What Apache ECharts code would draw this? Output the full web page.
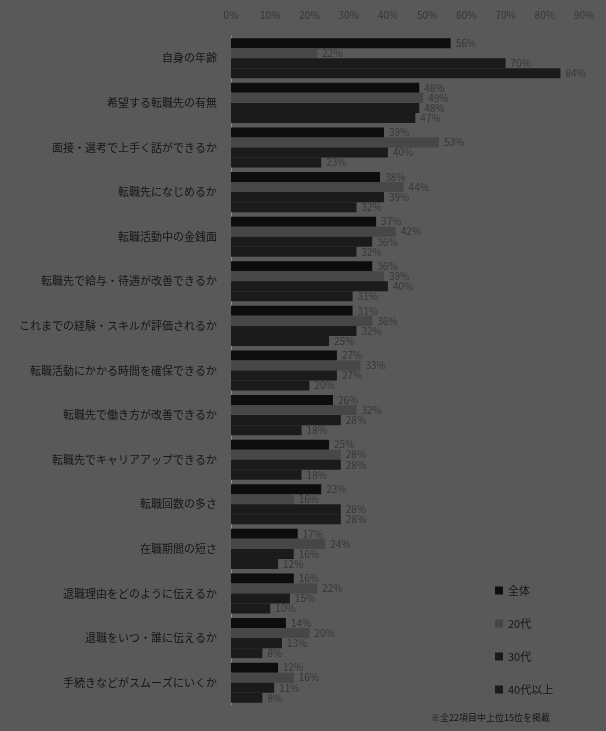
<!DOCTYPE html>
<html>
<head>
<meta charset="utf-8">
<script src="https://cdn.jsdelivr.net/npm/echarts@6/dist/echarts.min.js"></script>
<style>
html, body { margin: 0; padding: 0; background: #595959; }
#chart { width: 606px; height: 731px; }
</style>
</head>
<body>
<div id="chart"></div>
<script>
var categories = [
    '自身の年齢',
    '希望する転職先の有無',
    '面接・選考で上手く話ができるか',
    '転職先になじめるか',
    '転職活動中の金銭面',
    '転職先で給与・待遇が改善できるか',
    'これまでの経験・スキルが評価されるか',
    '転職活動にかかる時間を確保できるか',
    '転職先で働き方が改善できるか',
    '転職先でキャリアアップできるか',
    '転職回数の多さ',
    '在職期間の短さ',
    '退職理由をどのように伝えるか',
    '退職をいつ・誰に伝えるか',
    '手続きなどがスムーズにいくか'
];
var seriesNames = ['全体', '20代', '30代', '40代以上'];
var allAges = [56, 48, 39, 38, 37, 36, 31, 27, 26, 25, 23, 17, 16, 14, 12];
var twenties = [22, 49, 53, 44, 42, 39, 36, 33, 32, 28, 16, 24, 22, 20, 16];
var thirties = [70, 48, 40, 39, 36, 40, 32, 27, 28, 28, 28, 16, 15, 13, 11];
var forties = [84, 47, 23, 32, 32, 31, 25, 20, 18, 18, 28, 12, 10, 8, 8];
var xTicks = ['0%', '10%', '20%', '30%', '40%', '50%', '60%', '70%', '80%', '90%'];
var footnote = '※全22項目中上位15位を掲載';

var colors = ['#0d0d0d', '#474747', '#1b1b1b', '#1b1b1b'];
var values = [allAges, twenties, thirties, forties];

var series = [];
for (var i = 0; i < seriesNames.length; i++) {
    series.push({
        name: seriesNames[i],
        type: 'bar',
        data: values[i],
        barGap: '0%',
        barCategoryGap: '10%',
        itemStyle: { color: colors[i] },
        label: {
            show: true,
            position: 'right',
            distance: 5,
            formatter: '{c}%',
            fontSize: 10,
            color: '#363636',
            fontFamily: 'Noto Sans CJK JP'
        }
    });
}

var chart = echarts.init(document.getElementById('chart'));
chart.setOption({
    backgroundColor: '#595959',
    animation: false,
    textStyle: { fontFamily: 'Noto Sans CJK JP' },
    grid: { left: 231, right: 22, top: 36, bottom: 26 },
    legend: {
        data: seriesNames,
        orient: 'vertical',
        left: 490,
        top: 580,
        itemWidth: 8,
        itemHeight: 8,
        itemGap: 22,
        icon: 'rect',
        textStyle: { fontSize: 11, color: '#161616' }
    },
    graphic: [{
        type: 'text',
        left: 431,
        top: 713,
        style: { text: footnote, fontSize: 9, fill: '#161616', fontFamily: 'Noto Sans CJK JP' }
    }],
    xAxis: {
        type: 'value',
        position: 'top',
        min: 0,
        max: 90,
        interval: 10,
        axisLine: { show: false },
        axisTick: { show: false },
        splitLine: { show: false },
        axisLabel: {
            fontSize: 10,
            color: '#363636',
            margin: 16,
            formatter: function (v) { return xTicks[v / 10]; }
        }
    },
    yAxis: {
        type: 'category',
        data: categories,
        inverse: true,
        axisLine: { show: true, lineStyle: { color: '#8a8a8a', width: 1 } },
        axisTick: { show: false },
        axisLabel: { fontSize: 11, color: '#161616', margin: 14 }
    },
    series: series
});
</script>
</body>
</html>
